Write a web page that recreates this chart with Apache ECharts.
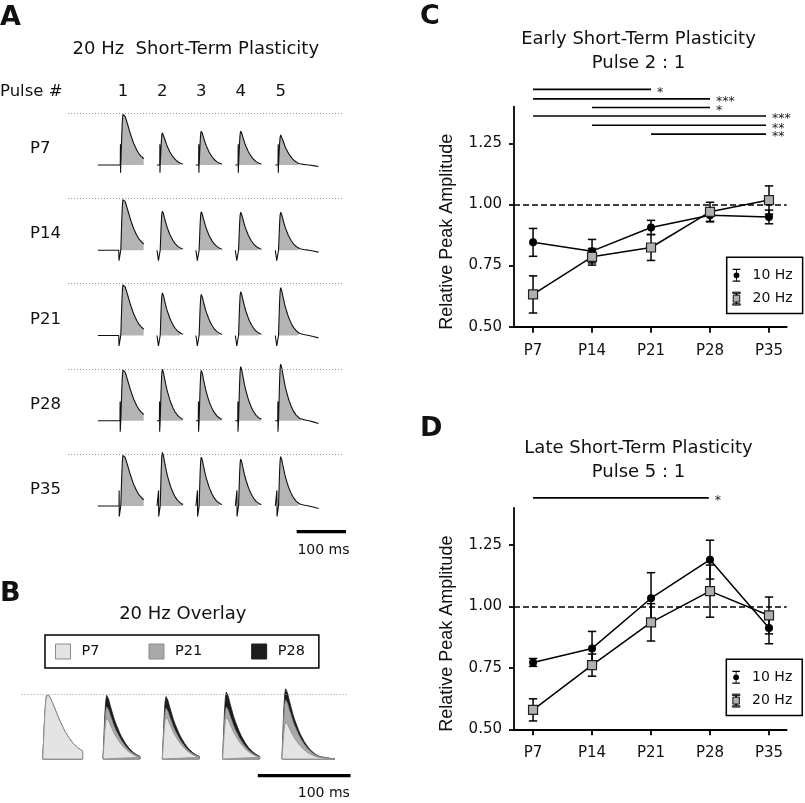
<!DOCTYPE html>
<html><head><meta charset="utf-8">
<script src="https://cdn.jsdelivr.net/npm/echarts@6/dist/echarts.min.js"></script>
<style>html,body{margin:0;padding:0;background:#fff}#c{width:805px;height:803px}</style>
</head><body><div id="c"></div>
<script>
// ================= DATA =================
const ages = ['P7', 'P14', 'P21', 'P28', 'P35'];
const ageX = [0, 1, 2, 3, 4];
const yTicks = [0.5, 0.75, 1.0, 1.25];

// Panel C: Early STP (pulse 2 : 1)
const c10Mean = [0.845, 0.809, 0.906, 0.956, 0.949];
const c10Sem  = [0.057, 0.048, 0.029, 0.027, 0.028];
const c20Mean = [0.632, 0.786, 0.824, 0.970, 1.018];
const c20Sem  = [0.076, 0.034, 0.053, 0.039, 0.058];
// Panel D: Late STP (pulse 5 : 1)
const d10Mean = [0.772, 0.829, 1.033, 1.190, 0.912];
const d10Sem  = [0.016, 0.069, 0.104, 0.079, 0.064];
const d20Mean = [0.579, 0.761, 0.935, 1.062, 0.963];
const d20Sem  = [0.045, 0.045, 0.076, 0.106, 0.075];

// Significance bars
const sigCFrom  = [0, 0, 1, 0, 1, 2];
const sigCTo    = [2, 3, 3, 3.95, 3.95, 3.95];
const sigCLevel = [1.471, 1.432, 1.397, 1.362, 1.324, 1.288];
const sigCStars = ['*', '***', '*', '***', '**', '**'];
const sigDFrom  = [0];
const sigDTo    = [2.98];
const sigDLevel = [1.441];
const sigDStars = ['*'];

// Panel A: 20 Hz traces (normalised to pulse-1 peak)
const rowsA = ['P7', 'P14', 'P21', 'P28', 'P35'];
const pulseNums = ['1', '2', '3', '4', '5'];
const pulseTimesA = [0, 74, 147, 221, 296];   // ms, display position of each stimulus
const ampA = [
  [1.00, 0.62, 0.65, 0.65, 0.58],
  [1.00, 0.75, 0.74, 0.73, 0.73],
  [1.00, 0.82, 0.79, 0.84, 0.92],
  [1.00, 0.99, 0.97, 1.04, 1.09],
  [1.00, 1.03, 0.94, 0.90, 0.95]
];
const artUpA    = [0.40, 0.00, 0.00, 0.37, 0.30];
const artDownA  = [-0.15, -0.20, -0.20, -0.21, -0.20];
const artWidthA = [0.6, 3.5, 3.5, 1.2, 3.0];
const preMsA  = [43, 6, 6, 6, 6];
const postMsA = [43, 43, 43, 43, 75];
const fillMsA = 43;

// Response waveforms (ms after stimulus, fraction of peak)
const tmpl1T = [0, 1, 2, 3, 4, 5, 6, 7, 8, 10, 12, 14, 16, 18, 20, 22, 24, 26, 28, 30, 32, 34, 36, 38, 40, 43];
const tmpl1V = [0, 0.30, 0.62, 0.85, 0.97, 1.00, 0.99, 0.97, 0.94, 0.88, 0.81, 0.74, 0.67, 0.60, 0.54, 0.48, 0.42, 0.38, 0.33, 0.29, 0.26, 0.22, 0.19, 0.17, 0.15, 0.12];
const tmplNT = [0, 1, 2, 3, 4, 5, 6, 8, 10, 12, 14, 16, 18, 20, 22, 24, 26, 28, 30, 33, 36, 40, 43, 47, 52, 57, 65, 75];
const tmplNV = [0, 0.35, 0.70, 0.92, 1.00, 0.98, 0.94, 0.83, 0.73, 0.63, 0.55, 0.48, 0.41, 0.35, 0.30, 0.25, 0.21, 0.17, 0.14, 0.10, 0.07, 0.04, 0.03, 0.02, 0.01, 0.00, -0.02, -0.05];

// Panel B: 20 Hz overlay
const groupsB = ['P7', 'P21', 'P28'];
const colorsB = ['#e4e4e4', '#a9a9a9', '#1c1c1c'];
const ampB = [
  [1.00, 0.63, 0.65, 0.65, 0.57],
  [1.00, 0.80, 0.78, 0.80, 0.91],
  [1.00, 0.98, 0.96, 1.03, 1.08]
];
const pulseTimesB = [0, 65, 129, 194, 258];
const postMsB = [43, 40, 40, 40, 57];

// Scale bars (100 ms)
const scaleBarA = [330, 430], scaleBarAY = -0.494;
const scaleBarB = [232, 332], scaleBarBY = -0.257;

// ================= BUILD =================
const FONT = 'DejaVu Sans';
const TXT = '#111';
const grids = [], xAxes = [], yAxes = [], series = [];

function tmpl(p) { return p === 0 ? [tmpl1T, tmpl1V] : [tmplNT, tmplNV]; }
const PEAK_SHIFT = 4;

// ---- Panel A grids ----
for (let r = 0; r < 5; r++) {
  grids.push({left: 68, top: 102.6 + 85.25 * r, width: 275, height: 88.4});
  xAxes.push({
    gridIndex: r, type: 'value', min: -99, max: 417,
    show: r === 0, position: 'top',
    axisLine: {show: false, onZero: false}, axisTick: {show: false}, splitLine: {show: false},
    axisLabel: {
      show: r === 0, customValues: pulseTimesA.map(t => t + PEAK_SHIFT),
      formatter: v => {
        const i = pulseTimesA.indexOf(Math.round(v - PEAK_SHIFT));
        return i >= 0 ? pulseNums[i] : '';
      },
      margin: 2, fontFamily: FONT, fontSize: 16.5, color: TXT
    }
  });
  yAxes.push({
    gridIndex: r, type: 'value', min: -0.5, max: 1.2,
    axisLine: {show: false, onZero: false}, axisTick: {show: false}, splitLine: {show: false},
    axisLabel: {
      show: true, customValues: [0.31], formatter: () => rowsA[r],
      align: 'left', margin: 38, fontFamily: FONT, fontSize: 16.5, color: TXT
    }
  });
  for (let p = 0; p < 5; p++) {
    const [T, V] = tmpl(p);
    const t0 = pulseTimesA[p], a = ampA[r][p], w = artWidthA[r];
    const line = [[t0 - preMsA[p], 0], [t0 - w - 0.3, 0], [t0 - w, artUpA[r]],
                  [t0 - w + 0.2, artDownA[r]], [t0 - 0.2, artDownA[r]]];
    const fill = [];
    for (let i = 0; i < T.length; i++) {
      if (T[i] <= postMsA[p]) line.push([t0 + T[i], a * V[i]]);
      if (T[i] <= fillMsA) fill.push([t0 + T[i], a * V[i]]);
    }
    series.push({
      type: 'line', name: 'A-fill-' + r + '-' + p, xAxisIndex: r, yAxisIndex: r,
      data: fill, symbol: 'none', lineStyle: {width: 0, opacity: 0},
      areaStyle: {color: '#b4b4b4', opacity: 1}, z: 1, silent: true
    });
    const s = {
      type: 'line', name: 'A-trace-' + r + '-' + p, xAxisIndex: r, yAxisIndex: r,
      data: line, symbol: 'none', lineStyle: {width: 1.1, color: '#111'}, z: 2, silent: true
    };
    if (p === 0) {
      s.markLine = {silent: true, symbol: ['none', 'none'], label: {show: false},
        lineStyle: {color: '#9a9a9a', width: 1, type: [1, 2]}, data: [{yAxis: 1}]};
    }
    series.push(s);
  }
}
// A scale bar
series.push({
  type: 'line', name: 'A-scale', xAxisIndex: 4, yAxisIndex: 4, clip: false,
  data: [[scaleBarA[0], scaleBarAY], [scaleBarA[1], scaleBarAY]],
  symbol: 'none', lineStyle: {width: 3.3, color: '#000', cap: 'butt'}, silent: true
});

// ---- Panel B grid (index 5) ----
grids.push({left: 21.7, top: 684.25, width: 326.6, height: 100.75});
xAxes.push({gridIndex: 5, type: 'value', min: -22.7, max: 329.6, show: false});
yAxes.push({gridIndex: 5, type: 'value', min: -0.4, max: 1.15, show: false});
for (let g = 2; g >= 0; g--) {
  for (let p = 0; p < 5; p++) {
    const [T, V] = tmpl(p);
    const t0 = pulseTimesB[p];
    const pts = [];
    for (let i = 0; i < T.length; i++) if (T[i] <= postMsB[p]) pts.push([t0 + T[i], ampB[g][p] * V[i]]);
    pts.push([t0 + postMsB[p], 0]);
    pts.push([t0, 0]);
    series.push({
      type: 'line', name: groupsB[g], xAxisIndex: 5, yAxisIndex: 5, data: pts, symbol: 'none',
      itemStyle: {color: colorsB[g]},
      lineStyle: {width: 0.8, color: g === 2 ? '#1c1c1c' : '#8a8a8a'},
      areaStyle: {color: colorsB[g], opacity: 1}, z: 2 + (2 - g), silent: true
    });
  }
}
series.push({
  type: 'line', name: 'B-dotted', xAxisIndex: 5, yAxisIndex: 5, data: [], symbol: 'none',
  markLine: {silent: true, symbol: ['none', 'none'], label: {show: false},
    lineStyle: {color: '#9a9a9a', width: 1, type: [1, 2]}, data: [{yAxis: 1}]}
});
series.push({
  type: 'line', name: 'B-scale', xAxisIndex: 5, yAxisIndex: 5, clip: false,
  data: [[scaleBarB[0], scaleBarBY], [scaleBarB[1], scaleBarBY]],
  symbol: 'none', lineStyle: {width: 3.3, color: '#000', cap: 'butt'}, silent: true
});

// ---- Panels C and D ----
function errRender(params, api) {
  const x = api.value(0), lo = api.value(1), hi = api.value(2);
  const a = api.coord([x, lo]), b = api.coord([x, hi]);
  const hw = 4.2;
  const st = {stroke: '#000', lineWidth: 1.5, fill: null};
  return {type: 'group', children: [
    {type: 'line', shape: {x1: a[0], y1: a[1], x2: b[0], y2: b[1]}, style: st},
    {type: 'line', shape: {x1: a[0] - hw, y1: a[1], x2: a[0] + hw, y2: a[1]}, style: st},
    {type: 'line', shape: {x1: b[0] - hw, y1: b[1], x2: b[0] + hw, y2: b[1]}, style: st}
  ]};
}
function statPanel(idx, top, height, m10, s10, m20, s20, sFrom, sTo, sLev, sStars) {
  grids.push({left: 514, top: top, width: 272.7, height: height});
  xAxes.push({
    gridIndex: idx, type: 'value', min: -0.323, max: 4.3,
    axisLine: {show: true, onZero: false, lineStyle: {color: '#000', width: 1.8}},
    axisTick: {show: true, customValues: ageX, length: 6, lineStyle: {color: '#000', width: 1.8}},
    axisLabel: {customValues: ageX, formatter: v => ages[Math.round(v)], margin: 16.5,
      fontFamily: FONT, fontSize: 15, color: TXT},
    splitLine: {show: false}
  });
  yAxes.push({
    gridIndex: idx, type: 'value', min: 0.5, max: 1.4,
    axisLine: {show: true, onZero: false, lineStyle: {color: '#000', width: 1.8}},
    axisTick: {show: true, customValues: yTicks, length: 5, lineStyle: {color: '#000', width: 1.8}},
    axisLabel: {customValues: yTicks, formatter: v => v.toFixed(2), margin: 12,
      fontFamily: FONT, fontSize: 15, color: TXT},
    splitLine: {show: false},
    name: 'Relative Peak Amplitude', nameLocation: 'middle', nameGap: 58,
    nameTextStyle: {fontFamily: 'Liberation Sans', fontSize: 18, color: TXT, padding: [0, 30, 0, 0]}
  });
  series.push({
    type: 'custom', name: 'sem10-' + idx, xAxisIndex: idx, yAxisIndex: idx, renderItem: errRender,
    data: ageX.map((x, i) => [x, m10[i] - s10[i], m10[i] + s10[i]]), encode: {x: 0, y: [1, 2]}, z: 2, silent: true
  });
  series.push({
    type: 'custom', name: 'sem20-' + idx, xAxisIndex: idx, yAxisIndex: idx, renderItem: errRender,
    data: ageX.map((x, i) => [x, m20[i] - s20[i], m20[i] + s20[i]]), encode: {x: 0, y: [1, 2]}, z: 2, silent: true
  });
  series.push({
    type: 'line', name: '10 Hz', xAxisIndex: idx, yAxisIndex: idx,
    data: ageX.map((x, i) => [x, m10[i]]), symbol: 'circle', symbolSize: 8, showSymbol: true,
    itemStyle: {color: '#000'}, lineStyle: {color: '#000', width: 1.5}, z: 3,
    markLine: {silent: true, symbol: ['none', 'none'], label: {show: false},
      lineStyle: {color: '#000', width: 1.5, type: [6, 3]}, data: [{yAxis: 1}]}
  });
  series.push({
    type: 'line', name: '20 Hz', xAxisIndex: idx, yAxisIndex: idx,
    data: ageX.map((x, i) => [x, m20[i]]), symbol: 'rect', symbolSize: 9, showSymbol: true,
    itemStyle: {color: '#b0b0b0', borderColor: '#222', borderWidth: 1.2},
    lineStyle: {color: '#000', width: 1.5}, z: 4
  });
  for (let k = 0; k < sFrom.length; k++) {
    series.push({
      type: 'line', name: 'sig-' + idx + '-' + k, xAxisIndex: idx, yAxisIndex: idx, clip: false,
      data: [[sFrom[k], sLev[k]], [sTo[k], sLev[k]]], symbol: 'none',
      lineStyle: {color: '#000', width: 1.6}, silent: true,
      endLabel: {show: true, formatter: () => sStars[k], distance: 6, offset: [0, 3],
        fontFamily: FONT, fontSize: 12.5, color: '#222'}
    });
  }
}
statPanel(6, 106.7, 220, c10Mean, c10Sem, c20Mean, c20Sem, sigCFrom, sigCTo, sigCLevel, sigCStars);
statPanel(7, 508, 221.3, d10Mean, d10Sem, d20Mean, d20Sem, sigDFrom, sigDTo, sigDLevel, sigDStars);

const icon10 = 'path://M0 0H14V2.4H0Z M6.2 2.4H7.8V6.6H6.2Z M6.2 17.4H7.8V21.6H6.2Z M0 21.6H14V24H0Z M1.6 12A5.4 5.4 0 1 0 12.4 12A5.4 5.4 0 1 0 1.6 12Z';
const icon20 = 'path://M0 0H14V2.4H0Z M6.2 2.4H7.8V5.5H6.2Z M6.2 18.5H7.8V21.6H6.2Z M0 21.6H14V24H0Z M1 5.5H13V18.5H1Z';
function statLegend(left, top) {
  return {
    left: left, top: top, orient: 'vertical', selectedMode: false,
    itemWidth: 8, itemHeight: 13, itemGap: 9.3, padding: [11, 10, 8, 5.5],
    borderColor: '#000', borderWidth: 1.5, backgroundColor: '#fff',
    textStyle: {fontFamily: FONT, fontSize: 14, color: TXT, padding: [0, 0, 0, 7]},
    data: [
      {name: '10 Hz', icon: icon10, itemStyle: {color: '#000', borderWidth: 0}},
      {name: '20 Hz', icon: icon20, itemStyle: {color: '#b0b0b0', borderColor: '#111', borderWidth: 1}}
    ]
  };
}
const legends = [
  statLegend(726.7, 257.3),
  statLegend(726.3, 659.3),
  {
    left: 45, top: 635, orient: 'horizontal', selectedMode: false,
    itemWidth: 15, itemHeight: 15, itemGap: 49, padding: [8.5, 14, 8.5, 10],
    borderColor: '#000', borderWidth: 1.5,
    textStyle: {fontFamily: FONT, fontSize: 14.5, color: TXT, padding: [0, 0, 0, 6]},
    data: groupsB.map((g, i) => ({name: g, icon: 'rect',
      itemStyle: {color: colorsB[i], borderColor: i === 2 ? '#1c1c1c' : '#8a8a8a', borderWidth: 1}}))
  }
];

function txt(text, x, y, size, align, weight, family) {
  return {type: 'text', silent: true, style: {text: text, x: x, y: y, fill: TXT,
    fontSize: size, fontWeight: weight || 'normal', fontFamily: family || FONT,
    align: align || 'center', verticalAlign: 'middle'}};
}
const graphics = [
  txt('A', 0, 17.5, 27, 'left', 'bold'),
  txt('B', 0, 594, 27, 'left', 'bold'),
  txt('C', 420, 16.7, 27, 'left', 'bold'),
  txt('D', 420, 429, 27, 'left', 'bold'),
  txt('20 Hz  Short-Term Plasticity', 195.8, 49.2, 18),
  txt('Pulse #', 0, 91.7, 16.5, 'left'),
  txt('100 ms', 323.5, 550.3, 14),
  txt('20 Hz Overlay', 182.8, 614, 18),
  txt('100 ms', 323.8, 793, 14),
  txt('Early Short-Term Plasticity', 638.5, 39.5, 18),
  txt('Pulse 2 : 1', 638.5, 63.3, 18),
  txt('Late Short-Term Plasticity', 638.5, 448.3, 18),
  txt('Pulse 5 : 1', 638.5, 472.7, 18)
];

const chart = echarts.init(document.getElementById('c'), null, {renderer: 'canvas'});
chart.setOption({
  animation: false,
  backgroundColor: '#fff',
  textStyle: {fontFamily: FONT},
  grid: grids, xAxis: xAxes, yAxis: yAxes,
  legend: legends,
  series: series,
  graphic: graphics
});
</script></body></html>
